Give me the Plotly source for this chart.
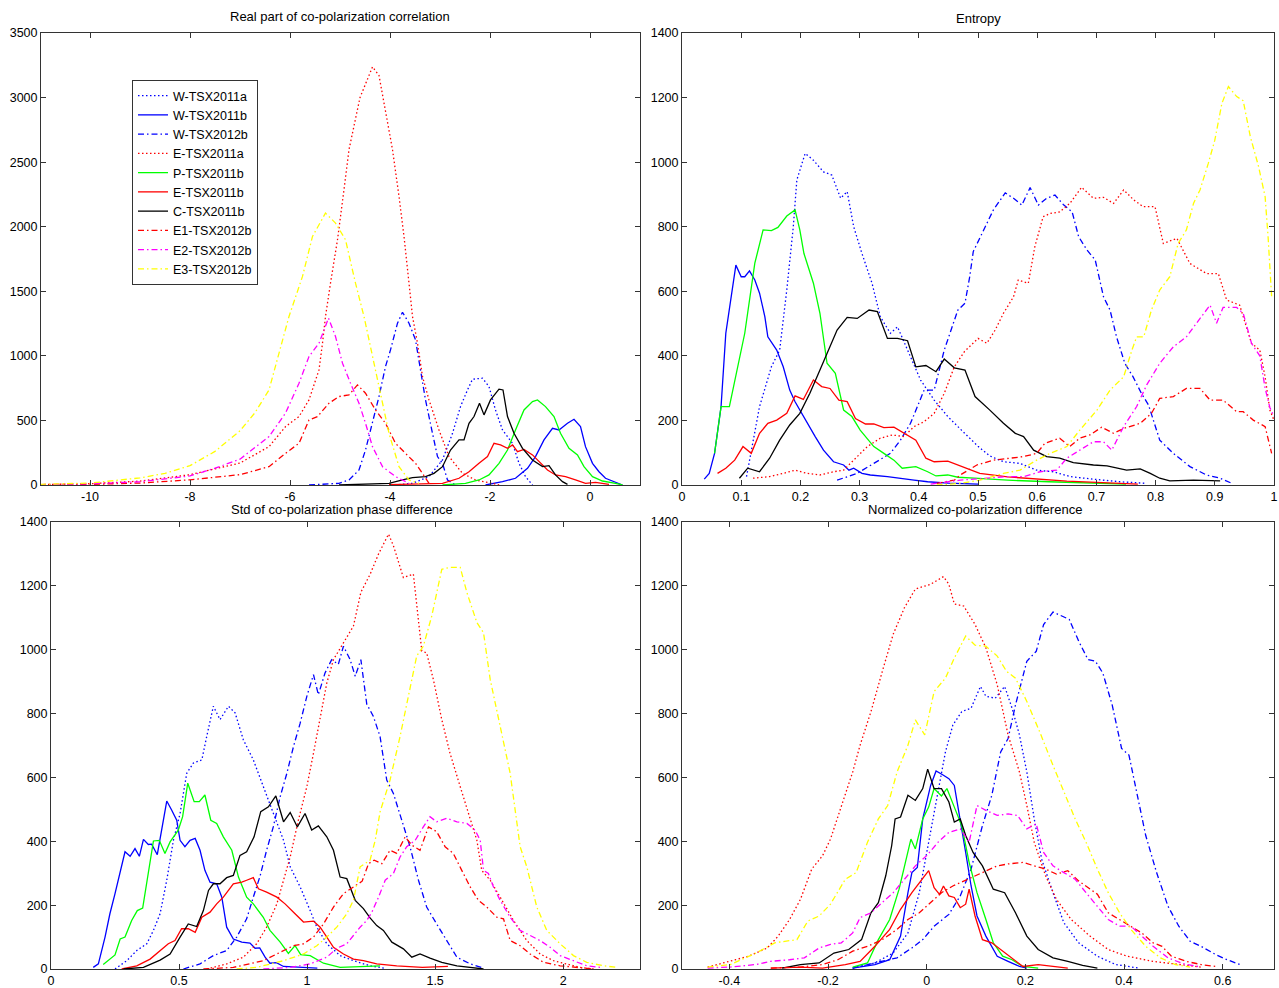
import plotly.graph_objects as go

# ---------------- series names / styles ----------------
names = ["W-TSX2011a", "W-TSX2011b", "W-TSX2012b", "E-TSX2011a", "P-TSX2011b",
         "E-TSX2011b", "C-TSX2011b", "E1-TSX2012b", "E2-TSX2012b", "E3-TSX2012b"]
colors = ["#0000FF", "#0000FF", "#0000FF", "#FF0000", "#00FF00",
          "#FF0000", "#000000", "#FF0000", "#FF00FF", "#FFFF00"]
DOT = "1.5px,2.5px"
DASHDOT = "6px,3px,1.5px,3px"
dashes = [DOT, "solid", DASHDOT, DOT, "solid", "solid", "solid", DASHDOT, DASHDOT, DASHDOT]

# ---------------- Real part of co-polarization correlation ----------------
rp_w11a_x = [-3.9, -3.55, -3.22, -2.95, -2.75, -2.59, -2.45, -2.35, -2.15, -2.02, -1.89, -1.75, -1.55, -1.42, -1.29, -1.15]
rp_w11a_y = [0, 13, 65, 194, 400, 607, 736, 819, 827, 762, 581, 426, 323, 168, 65, 0]
rp_w11b_x = [-2.09, -1.75, -1.49, -1.25, -1.09, -0.92, -0.75, -0.62, -0.45, -0.32, -0.19, -0.09, 0.05, 0.18, 0.31, 0.51, 0.65]
rp_w11b_y = [0, 26, 52, 129, 220, 349, 439, 426, 478, 509, 452, 297, 168, 103, 52, 18, 0]
rp_w12b_x = [-5.62, -5.02, -4.82, -4.62, -4.49, -4.35, -4.22, -4.09, -3.99, -3.85, -3.75, -3.62, -3.49, -3.39, -3.29, -3.15, -3.05, -2.95, -2.85, -2.69]
rp_w12b_y = [0, 13, 39, 116, 271, 478, 685, 917, 1046, 1253, 1338, 1253, 1124, 891, 659, 400, 220, 168, 39, 0]
rp_e11a_x = [-11, -10, -9, -8, -7, -6.42, -6.09, -5.82, -5.62, -5.42, -5.35, -5.29, -5.19, -5.05, -4.92, -4.82, -4.6, -4.35, -4.22, -4.09, -3.95, -3.82, -3.72, -3.62, -3.55, -3.45, -3.35, -3.22, -3.02, -2.82, -2.55, -2.29, -2.0, -1.8]
rp_e11a_y = [3, 10, 30, 80, 170, 297, 452, 530, 659, 891, 1098, 1305, 1563, 1899, 2287, 2597, 3000, 3238, 3171, 2907, 2597, 2235, 1925, 1563, 1305, 1098, 840, 659, 426, 220, 90, 39, 13, 0]
rp_p11b_x = [-2.95, -2.49, -2.22, -2.02, -1.82, -1.65, -1.49, -1.32, -1.15, -1.05, -0.89, -0.72, -0.59, -0.42, -0.25, -0.12, 0.05, 0.25, 0.51, 0.65]
rp_p11b_y = [0, 13, 39, 78, 168, 271, 426, 581, 646, 659, 607, 530, 400, 284, 233, 142, 65, 31, 13, 0]
rp_e11b_x = [-4.02, -3.29, -2.95, -2.62, -2.42, -2.22, -2.05, -1.92, -1.79, -1.65, -1.55, -1.45, -1.32, -1.15, -1.02, -0.85, -0.69, -0.49, -0.29, -0.09, 0.11, 0.38]
rp_e11b_y = [3, 13, 13, 52, 103, 168, 220, 323, 310, 284, 310, 258, 276, 233, 181, 116, 78, 65, 39, 13, 21, 5]
rp_c11b_x = [-5.02, -4.42, -4.02, -3.75, -3.55, -3.29, -3.12, -2.95, -2.79, -2.62, -2.52, -2.42, -2.32, -2.21, -2.12, -1.99, -1.82, -1.74, -1.65, -1.52, -1.35, -1.15, -0.95, -0.82, -0.69, -0.55, -0.45]
rp_c11b_y = [0, 5, 13, 39, 57, 65, 90, 142, 271, 349, 349, 478, 530, 633, 543, 659, 742, 736, 530, 400, 284, 194, 142, 150, 78, 26, 5]
rp_e1_x = [-11, -10, -9, -8, -7, -6.42, -6.09, -5.82, -5.62, -5.45, -5.22, -5.02, -4.82, -4.65, -4.49, -4.29, -4.09, -3.89, -3.69, -3.49, -3.35, -3.22]
rp_e1_y = [2, 5, 15, 40, 80, 142, 245, 323, 504, 530, 633, 685, 698, 775, 711, 581, 478, 323, 245, 168, 90, 13]
rp_e2_x = [-11, -10, -9, -8, -7.5, -7, -6.42, -6.09, -5.82, -5.62, -5.42, -5.23, -5.09, -4.95, -4.79, -4.62, -4.49, -4.35, -4.15, -3.89, -3.62]
rp_e2_y = [3, 10, 25, 70, 130, 200, 375, 556, 788, 995, 1098, 1292, 1150, 943, 788, 633, 478, 297, 142, 65, 13]
rp_e3_x = [-11, -10, -9, -8.5, -8, -7.5, -7, -6.7, -6.42, -6.29, -6.02, -5.75, -5.55, -5.29, -5.09, -4.89, -4.69, -4.52, -4.35, -4.19, -4.02, -3.82, -3.62, -3.42]
rp_e3_y = [5, 15, 55, 90, 150, 260, 420, 560, 736, 917, 1305, 1615, 1925, 2106, 2028, 1899, 1563, 1305, 995, 711, 400, 142, 39, 13]

# ---------------- Entropy ----------------
en_w11a_x = [0.109, 0.131, 0.151, 0.165, 0.177, 0.188, 0.194, 0.208, 0.222, 0.239, 0.253, 0.268, 0.279, 0.29, 0.304, 0.321, 0.335, 0.352, 0.364, 0.386, 0.403, 0.426, 0.449, 0.472, 0.5, 0.52, 0.543, 0.571, 0.599, 0.627, 0.656, 0.695, 0.74, 0.785]
en_w11a_y = [26, 243, 366, 418, 604, 800, 945, 1027, 1006, 970, 960, 888, 909, 800, 717, 625, 521, 470, 490, 397, 325, 263, 212, 170, 120, 90, 72, 67, 46, 41, 26, 18, 10, 5]
en_w11b_x = [0.0376, 0.046, 0.055, 0.066, 0.074, 0.086, 0.091, 0.1, 0.106, 0.114, 0.123, 0.131, 0.14, 0.145, 0.16, 0.171, 0.182, 0.191, 0.199, 0.211, 0.225, 0.239, 0.256, 0.273, 0.282, 0.29, 0.304, 0.318, 0.347, 0.392, 0.415, 0.45, 0.5]
en_w11b_y = [18, 36, 98, 243, 470, 614, 681, 645, 645, 663, 635, 594, 521, 459, 418, 366, 294, 258, 232, 191, 150, 108, 72, 62, 46, 52, 36, 31, 26, 15, 10, 6, 3]
en_w12b_x = [0.262, 0.296, 0.324, 0.352, 0.369, 0.386, 0.409, 0.426, 0.443, 0.466, 0.478, 0.486, 0.492, 0.509, 0.526, 0.546, 0.56, 0.574, 0.588, 0.602, 0.616, 0.63, 0.645, 0.659, 0.67, 0.684, 0.698, 0.712, 0.723, 0.734, 0.748, 0.762, 0.776, 0.788, 0.807, 0.83, 0.858, 0.886, 0.909, 0.929]
en_w12b_y = [15, 36, 67, 98, 139, 191, 294, 294, 418, 542, 563, 645, 723, 790, 852, 905, 888, 867, 921, 867, 888, 898, 867, 846, 769, 728, 697, 583, 542, 459, 377, 335, 284, 248, 139, 98, 57, 31, 21, 5]
en_e11a_x = [0.12, 0.148, 0.171, 0.191, 0.211, 0.233, 0.256, 0.273, 0.29, 0.313, 0.335, 0.355, 0.375, 0.392, 0.409, 0.426, 0.443, 0.46, 0.477, 0.494, 0.5, 0.515, 0.529, 0.543, 0.56, 0.568, 0.585, 0.596, 0.61, 0.622, 0.638, 0.655, 0.675, 0.695, 0.712, 0.729, 0.746, 0.763, 0.779, 0.799, 0.813, 0.836, 0.858, 0.886, 0.906, 0.92, 0.942, 0.962, 0.976, 0.985, 0.993, 1.0]
en_e11a_y = [21, 26, 36, 46, 36, 31, 41, 46, 77, 119, 145, 155, 150, 181, 196, 222, 284, 366, 413, 444, 454, 439, 480, 532, 583, 635, 625, 738, 831, 841, 846, 872, 922, 888, 891, 872, 914, 883, 862, 862, 748, 764, 686, 655, 655, 573, 557, 439, 418, 335, 232, 201]
en_p11b_x = [0.055, 0.066, 0.08, 0.091, 0.106, 0.123, 0.137, 0.151, 0.162, 0.177, 0.191, 0.199, 0.206, 0.222, 0.233, 0.245, 0.259, 0.273, 0.287, 0.301, 0.324, 0.341, 0.358, 0.372, 0.395, 0.415, 0.429, 0.449, 0.466, 0.494, 0.55, 0.62, 0.7, 0.75]
en_p11b_y = [98, 243, 243, 335, 470, 687, 790, 788, 798, 833, 852, 790, 717, 625, 532, 377, 346, 232, 212, 170, 119, 98, 77, 52, 57, 41, 28, 31, 24, 21, 15, 10, 5, 3]
en_e11b_x = [0.06, 0.074, 0.089, 0.103, 0.117, 0.131, 0.145, 0.16, 0.177, 0.191, 0.205, 0.222, 0.236, 0.25, 0.265, 0.279, 0.293, 0.31, 0.324, 0.341, 0.358, 0.381, 0.395, 0.412, 0.426, 0.449, 0.466, 0.489, 0.503, 0.55, 0.6, 0.65, 0.7, 0.77]
en_e11b_y = [36, 52, 77, 119, 98, 160, 191, 201, 222, 276, 265, 325, 305, 299, 263, 258, 206, 189, 189, 178, 179, 155, 139, 83, 72, 74, 62, 46, 36, 25, 18, 12, 8, 3]
en_c11b_x = [0.097, 0.111, 0.131, 0.148, 0.165, 0.182, 0.199, 0.216, 0.233, 0.248, 0.262, 0.279, 0.296, 0.316, 0.33, 0.347, 0.364, 0.381, 0.395, 0.412, 0.429, 0.443, 0.46, 0.478, 0.495, 0.52, 0.543, 0.563, 0.577, 0.594, 0.616, 0.638, 0.661, 0.695, 0.718, 0.751, 0.774, 0.791, 0.807, 0.824, 0.864, 0.909]
en_c11b_y = [21, 52, 41, 83, 139, 186, 222, 284, 356, 418, 480, 519, 516, 542, 537, 454, 454, 447, 366, 370, 351, 390, 363, 356, 274, 232, 191, 160, 150, 108, 88, 83, 69, 62, 59, 46, 50, 36, 21, 13, 15, 13]
en_e1_x = [0.43, 0.46, 0.47, 0.498, 0.526, 0.56, 0.577, 0.599, 0.613, 0.638, 0.655, 0.672, 0.689, 0.709, 0.729, 0.746, 0.774, 0.793, 0.807, 0.83, 0.852, 0.875, 0.892, 0.914, 0.937, 0.948, 0.965, 0.985, 0.996]
en_e1_y = [5, 15, 31, 62, 77, 83, 88, 98, 129, 145, 119, 145, 155, 179, 160, 175, 191, 222, 268, 274, 299, 299, 263, 263, 227, 227, 201, 181, 98]
en_e2_x = [0.42, 0.47, 0.515, 0.549, 0.577, 0.605, 0.633, 0.65, 0.672, 0.695, 0.712, 0.726, 0.746, 0.768, 0.785, 0.807, 0.83, 0.852, 0.869, 0.892, 0.903, 0.914, 0.937, 0.948, 0.962, 0.976, 0.985, 0.993, 1.0]
en_e2_y = [3, 15, 21, 26, 26, 41, 46, 83, 108, 134, 134, 108, 181, 243, 310, 377, 428, 459, 501, 557, 501, 550, 550, 532, 439, 400, 300, 240, 212]
en_e3_x = [0.43, 0.47, 0.503, 0.543, 0.571, 0.599, 0.622, 0.65, 0.672, 0.701, 0.723, 0.746, 0.76, 0.768, 0.78, 0.793, 0.807, 0.824, 0.838, 0.852, 0.864, 0.875, 0.889, 0.9, 0.912, 0.923, 0.937, 0.948, 0.96, 0.974, 0.985, 0.99, 0.996]
en_e3_y = [0, 5, 15, 36, 46, 77, 98, 119, 170, 232, 294, 335, 418, 459, 459, 542, 604, 645, 748, 790, 872, 914, 996, 1068, 1182, 1234, 1203, 1190, 1079, 986, 893, 769, 583]

# ---------------- Std of co-polarization phase difference ----------------
sd_w11a_x = [0.25, 0.296, 0.335, 0.374, 0.4, 0.426, 0.452, 0.478, 0.504, 0.53, 0.556, 0.589, 0.608, 0.634, 0.66, 0.693, 0.719, 0.751, 0.79, 0.829, 0.868, 0.908, 0.934, 0.973, 1.012, 1.038, 1.077, 1.129, 1.181, 1.246, 1.3]
sd_w11a_y = [0, 26, 58, 79, 121, 173, 278, 403, 487, 613, 645, 655, 728, 823, 781, 823, 802, 718, 655, 571, 487, 403, 320, 257, 183, 131, 79, 42, 26, 10, 3]
sd_w11b_x = [0.165, 0.185, 0.211, 0.23, 0.25, 0.27, 0.289, 0.309, 0.328, 0.345, 0.361, 0.38, 0.393, 0.415, 0.432, 0.452, 0.471, 0.491, 0.504, 0.523, 0.543, 0.563, 0.582, 0.601, 0.621, 0.647, 0.667, 0.686, 0.712, 0.745, 0.777, 0.797, 0.815, 0.836, 0.855, 0.88, 0.908, 0.973, 1.04]
sd_w11b_y = [5, 16, 100, 173, 236, 299, 367, 353, 377, 353, 406, 390, 391, 358, 435, 526, 498, 466, 403, 383, 403, 409, 372, 309, 272, 267, 225, 131, 94, 84, 81, 65, 66, 37, 18, 20, 8, 5, 3]
sd_w12b_x = [0.517, 0.582, 0.634, 0.686, 0.725, 0.764, 0.79, 0.816, 0.842, 0.868, 0.895, 0.921, 0.947, 0.973, 0.999, 1.025, 1.044, 1.07, 1.096, 1.122, 1.142, 1.168, 1.188, 1.21, 1.233, 1.259, 1.285, 1.311, 1.337, 1.37, 1.402, 1.435, 1.467, 1.506, 1.546, 1.585, 1.637, 1.689]
sd_w12b_y = [0, 16, 42, 58, 100, 157, 225, 290, 372, 445, 540, 613, 697, 770, 854, 922, 859, 927, 969, 954, 1011, 969, 917, 969, 830, 791, 728, 592, 550, 466, 383, 278, 194, 141, 89, 37, 16, 3]
sd_e11a_x = [0.608, 0.686, 0.751, 0.803, 0.842, 0.882, 0.908, 0.934, 0.966, 0.999, 1.025, 1.051, 1.077, 1.103, 1.142, 1.181, 1.21, 1.246, 1.279, 1.318, 1.337, 1.376, 1.415, 1.435, 1.448, 1.467, 1.493, 1.526, 1.558, 1.598, 1.637, 1.663, 1.682, 1.715, 1.754, 1.806, 1.858, 1.91, 1.962, 2.014, 2.066, 2.12]
sd_e11a_y = [0, 16, 37, 79, 131, 204, 278, 351, 466, 571, 676, 781, 896, 969, 1022, 1074, 1180, 1236, 1300, 1362, 1326, 1226, 1237, 1095, 996, 990, 907, 781, 676, 571, 466, 403, 309, 278, 225, 152, 89, 47, 26, 16, 5, 0]
sd_p11b_x = [0.204, 0.25, 0.27, 0.289, 0.315, 0.337, 0.358, 0.38, 0.4, 0.423, 0.445, 0.465, 0.497, 0.514, 0.534, 0.559, 0.579, 0.601, 0.624, 0.647, 0.673, 0.706, 0.732, 0.764, 0.79, 0.829, 0.855, 0.895, 0.927, 0.953, 0.975, 1.012, 1.064, 1.129, 1.2, 1.285]
sd_p11b_y = [14, 44, 94, 100, 152, 183, 191, 309, 401, 403, 362, 398, 435, 477, 582, 524, 524, 545, 466, 456, 414, 372, 288, 225, 204, 162, 121, 84, 49, 73, 45, 42, 18, 5, 8, 10]
sd_e11b_x = [0.276, 0.335, 0.387, 0.426, 0.458, 0.484, 0.51, 0.536, 0.563, 0.589, 0.621, 0.647, 0.673, 0.712, 0.745, 0.764, 0.79, 0.81, 0.842, 0.882, 0.914, 0.953, 0.986, 1.025, 1.051, 1.077, 1.103, 1.142, 1.181, 1.22, 1.272, 1.35, 1.45, 1.55]
sd_e11b_y = [0, 10, 31, 58, 79, 89, 126, 126, 115, 162, 178, 204, 225, 267, 272, 278, 286, 251, 241, 225, 204, 173, 147, 150, 131, 100, 68, 47, 31, 26, 16, 10, 5, 8]
sd_c11b_x = [0.283, 0.361, 0.426, 0.465, 0.504, 0.536, 0.569, 0.595, 0.615, 0.634, 0.66, 0.686, 0.712, 0.738, 0.764, 0.793, 0.819, 0.849, 0.878, 0.908, 0.934, 0.962, 0.992, 1.018, 1.044, 1.077, 1.103, 1.129, 1.155, 1.188, 1.22, 1.246, 1.272, 1.298, 1.331, 1.376, 1.409, 1.441, 1.48, 1.526, 1.585, 1.637, 1.689]
sd_c11b_y = [0, 5, 28, 47, 100, 141, 133, 183, 246, 267, 267, 286, 293, 356, 367, 414, 493, 508, 542, 461, 490, 445, 487, 435, 448, 414, 372, 288, 283, 215, 189, 160, 136, 121, 84, 63, 37, 47, 34, 21, 10, 5, 0]
sd_e1_x = [0.595, 0.712, 0.829, 0.908, 0.947, 0.986, 1.025, 1.064, 1.103, 1.142, 1.181, 1.215, 1.24, 1.262, 1.292, 1.324, 1.35, 1.383, 1.409, 1.441, 1.474, 1.506, 1.539, 1.571, 1.604, 1.637, 1.669, 1.702, 1.741, 1.767, 1.793, 1.832, 1.871, 1.923, 1.988, 2.053, 2.118]
sd_e1_y = [0, 5, 26, 58, 73, 79, 100, 141, 194, 236, 257, 275, 330, 341, 330, 372, 362, 414, 388, 372, 445, 430, 383, 362, 309, 257, 215, 194, 162, 157, 89, 73, 47, 21, 10, 5, 0]
sd_e2_x = [0.829, 0.934, 1.012, 1.077, 1.116, 1.155, 1.181, 1.207, 1.233, 1.253, 1.279, 1.305, 1.337, 1.363, 1.389, 1.422, 1.454, 1.48, 1.506, 1.546, 1.585, 1.624, 1.656, 1.676, 1.689, 1.708, 1.728, 1.754, 1.793, 1.832, 1.871, 1.91, 1.949, 1.988, 2.04, 2.092, 2.144]
sd_e2_y = [0, 5, 16, 37, 65, 79, 105, 131, 152, 178, 225, 278, 299, 351, 383, 403, 445, 477, 461, 472, 461, 456, 435, 403, 309, 299, 257, 215, 162, 121, 105, 89, 68, 42, 26, 10, 5]
sd_e3_x = [0.725, 0.803, 0.908, 0.986, 1.038, 1.077, 1.116, 1.155, 1.181, 1.207, 1.246, 1.266, 1.285, 1.324, 1.363, 1.402, 1.428, 1.454, 1.487, 1.526, 1.558, 1.598, 1.624, 1.663, 1.689, 1.715, 1.754, 1.793, 1.832, 1.858, 1.897, 1.936, 1.988, 2.04, 2.092, 2.157, 2.209]
sd_e3_y = [0, 5, 26, 47, 73, 100, 131, 173, 215, 320, 341, 403, 492, 592, 728, 886, 980, 1011, 1106, 1252, 1258, 1258, 1179, 1085, 1053, 907, 760, 613, 383, 320, 194, 121, 79, 42, 21, 10, 5]

# ---------------- Normalized co-polarization difference ----------------
nd_w11a_x = [-0.15, -0.105, -0.068, -0.038, -0.015, 0.004, 0.023, 0.038, 0.053, 0.071, 0.09, 0.109, 0.12, 0.139, 0.158, 0.173, 0.188, 0.203, 0.218, 0.233, 0.256, 0.278, 0.308, 0.346, 0.383, 0.429]
nd_w11a_y = [3, 19, 50, 113, 239, 397, 554, 680, 764, 806, 817, 885, 854, 848, 885, 817, 733, 617, 470, 344, 239, 145, 82, 40, 14, 3]
nd_w11b_x = [-0.15, -0.105, -0.075, -0.053, -0.038, -0.03, -0.019, -0.008, 0.008, 0.019, 0.034, 0.045, 0.056, 0.068, 0.079, 0.09, 0.102, 0.12, 0.143, 0.165, 0.188, 0.203]
nd_w11b_y = [3, 14, 29, 103, 239, 302, 318, 470, 575, 620, 607, 596, 575, 470, 365, 260, 166, 103, 40, 24, 8, 3]
nd_w12b_x = [-0.15, -0.105, -0.06, -0.03, -0.008, 0.015, 0.045, 0.068, 0.09, 0.113, 0.132, 0.15, 0.165, 0.18, 0.203, 0.222, 0.237, 0.256, 0.289, 0.308, 0.327, 0.342, 0.357, 0.376, 0.395, 0.41, 0.425, 0.444, 0.466, 0.489, 0.511, 0.534, 0.556, 0.586, 0.609, 0.635]
nd_w12b_y = [3, 19, 35, 66, 92, 134, 171, 229, 313, 449, 544, 680, 722, 827, 964, 995, 1079, 1118, 1095, 1027, 969, 964, 927, 827, 691, 670, 554, 418, 302, 197, 134, 87, 71, 45, 29, 14]
nd_e11a_x = [-0.444, -0.398, -0.361, -0.323, -0.301, -0.278, -0.256, -0.233, -0.211, -0.195, -0.173, -0.15, -0.135, -0.113, -0.09, -0.068, -0.045, -0.023, 0.008, 0.034, 0.045, 0.056, 0.075, 0.098, 0.12, 0.143, 0.165, 0.188, 0.203, 0.218, 0.241, 0.263, 0.293, 0.331, 0.368, 0.406, 0.459, 0.511, 0.556]
nd_e11a_y = [6, 24, 40, 66, 103, 155, 218, 313, 355, 407, 512, 617, 701, 806, 932, 1048, 1132, 1190, 1205, 1229, 1205, 1143, 1137, 1079, 1006, 890, 733, 617, 512, 397, 292, 218, 155, 103, 61, 40, 24, 14, 6]
nd_p11b_x = [-0.15, -0.12, -0.098, -0.075, -0.056, -0.045, -0.032, -0.023, -0.008, 0.004, 0.015, 0.03, 0.041, 0.056, 0.071, 0.086, 0.102, 0.12, 0.135, 0.154, 0.173, 0.195, 0.226]
nd_p11b_y = [6, 19, 92, 155, 250, 323, 407, 376, 470, 507, 565, 542, 565, 507, 449, 334, 239, 155, 82, 40, 29, 8, 3]
nd_e11b_x = [-0.316, -0.256, -0.211, -0.165, -0.135, -0.105, -0.075, -0.053, -0.03, -0.011, 0.004, 0.015, 0.026, 0.034, 0.045, 0.056, 0.068, 0.079, 0.086, 0.098, 0.113, 0.132, 0.15, 0.173, 0.195, 0.226, 0.256, 0.286]
nd_e11b_y = [3, 6, 3, 14, 24, 71, 124, 187, 239, 276, 308, 255, 234, 260, 229, 224, 192, 203, 250, 166, 92, 82, 61, 35, 8, 14, 8, 3]
nd_c11b_x = [-0.293, -0.256, -0.218, -0.188, -0.158, -0.132, -0.113, -0.098, -0.083, -0.071, -0.064, -0.053, -0.038, -0.023, -0.008, 0.002, 0.015, 0.03, 0.045, 0.056, 0.068, 0.079, 0.094, 0.113, 0.135, 0.158, 0.18, 0.203, 0.226, 0.256, 0.286, 0.316, 0.346]
nd_c11b_y = [3, 14, 19, 50, 61, 92, 176, 208, 292, 386, 470, 476, 544, 528, 565, 626, 565, 565, 523, 460, 470, 418, 365, 323, 250, 239, 176, 103, 61, 35, 24, 11, 3]
nd_e1_x = [-0.316, -0.256, -0.211, -0.18, -0.15, -0.12, -0.09, -0.06, -0.038, -0.015, 0.008, 0.03, 0.053, 0.075, 0.098, 0.12, 0.143, 0.165, 0.195, 0.218, 0.241, 0.263, 0.286, 0.308, 0.331, 0.346, 0.368, 0.391, 0.414, 0.436, 0.459, 0.477, 0.496, 0.526, 0.556, 0.586]
nd_e1_y = [3, 6, 14, 29, 56, 71, 92, 124, 155, 176, 208, 239, 260, 276, 292, 308, 323, 329, 334, 323, 313, 297, 308, 276, 250, 234, 176, 155, 134, 113, 82, 71, 40, 24, 14, 8]
nd_e2_x = [-0.444, -0.398, -0.346, -0.316, -0.278, -0.248, -0.218, -0.195, -0.173, -0.15, -0.135, -0.113, -0.09, -0.068, -0.045, -0.023, 0.0, 0.023, 0.045, 0.068, 0.086, 0.102, 0.12, 0.143, 0.165, 0.184, 0.203, 0.222, 0.237, 0.256, 0.278, 0.301, 0.323, 0.346, 0.368, 0.391, 0.414, 0.436, 0.459, 0.489, 0.519, 0.556]
nd_e2_y = [3, 6, 14, 24, 29, 35, 66, 77, 82, 113, 161, 176, 208, 239, 281, 323, 355, 397, 428, 439, 397, 512, 497, 481, 486, 481, 439, 455, 365, 323, 302, 281, 239, 197, 155, 134, 134, 103, 71, 35, 17, 6]
nd_e3_x = [-0.444, -0.398, -0.346, -0.308, -0.263, -0.241, -0.218, -0.195, -0.165, -0.143, -0.12, -0.098, -0.079, -0.06, -0.038, -0.023, -0.004, 0.015, 0.038, 0.056, 0.079, 0.098, 0.12, 0.143, 0.162, 0.18, 0.203, 0.229, 0.256, 0.278, 0.301, 0.323, 0.346, 0.368, 0.391, 0.414, 0.444, 0.474, 0.504, 0.534]
nd_e3_y = [6, 14, 50, 82, 92, 150, 166, 203, 281, 302, 397, 470, 512, 617, 701, 780, 733, 869, 911, 974, 1043, 1014, 1011, 980, 932, 911, 838, 743, 638, 554, 470, 397, 313, 239, 176, 124, 71, 35, 14, 6]

# ---------------- tick labels ----------------
rp_xticks = [-10, -8, -6, -4, -2, 0]
rp_xtext = ["-10", "-8", "-6", "-4", "-2", "0"]
rp_yticks = [0, 500, 1000, 1500, 2000, 2500, 3000, 3500]
en_xticks = [0, 0.1, 0.2, 0.3, 0.4, 0.5, 0.6, 0.7, 0.8, 0.9, 1]
en_xtext = ["0", "0.1", "0.2", "0.3", "0.4", "0.5", "0.6", "0.7", "0.8", "0.9", "1"]
sd_xticks = [0, 0.5, 1, 1.5, 2]
sd_xtext = ["0", "0.5", "1", "1.5", "2"]
nd_xticks = [-0.4, -0.2, 0, 0.2, 0.4, 0.6]
nd_xtext = ["-0.4", "-0.2", "0", "0.2", "0.4", "0.6"]
hist_yticks = [0, 200, 400, 600, 800, 1000, 1200, 1400]

titles = ["Real part of co-polarization correlation", "Entropy",
          "Std of co-polarization phase difference", "Normalized co-polarization difference"]

panels = [
    [(rp_w11a_x, rp_w11a_y), (rp_w11b_x, rp_w11b_y), (rp_w12b_x, rp_w12b_y), (rp_e11a_x, rp_e11a_y),
     (rp_p11b_x, rp_p11b_y), (rp_e11b_x, rp_e11b_y), (rp_c11b_x, rp_c11b_y), (rp_e1_x, rp_e1_y),
     (rp_e2_x, rp_e2_y), (rp_e3_x, rp_e3_y)],
    [(en_w11a_x, en_w11a_y), (en_w11b_x, en_w11b_y), (en_w12b_x, en_w12b_y), (en_e11a_x, en_e11a_y),
     (en_p11b_x, en_p11b_y), (en_e11b_x, en_e11b_y), (en_c11b_x, en_c11b_y), (en_e1_x, en_e1_y),
     (en_e2_x, en_e2_y), (en_e3_x, en_e3_y)],
    [(sd_w11a_x, sd_w11a_y), (sd_w11b_x, sd_w11b_y), (sd_w12b_x, sd_w12b_y), (sd_e11a_x, sd_e11a_y),
     (sd_p11b_x, sd_p11b_y), (sd_e11b_x, sd_e11b_y), (sd_c11b_x, sd_c11b_y), (sd_e1_x, sd_e1_y),
     (sd_e2_x, sd_e2_y), (sd_e3_x, sd_e3_y)],
    [(nd_w11a_x, nd_w11a_y), (nd_w11b_x, nd_w11b_y), (nd_w12b_x, nd_w12b_y), (nd_e11a_x, nd_e11a_y),
     (nd_p11b_x, nd_p11b_y), (nd_e11b_x, nd_e11b_y), (nd_c11b_x, nd_c11b_y), (nd_e1_x, nd_e1_y),
     (nd_e2_x, nd_e2_y), (nd_e3_x, nd_e3_y)],
]

W, H = 1279, 988
FONT = "Liberation Sans, Arial, Helvetica, sans-serif"

fig = go.Figure()
for p, series in enumerate(panels):
    ax = "" if p == 0 else str(p + 1)
    for i, (xs, ys) in enumerate(series):
        fig.add_trace(go.Scatter(
            x=xs, y=ys, mode="lines", name=names[i], legendgroup=names[i],
            showlegend=(p == 0), xaxis="x" + ax, yaxis="y" + ax,
            line=dict(color=colors[i], width=1.3, dash=dashes[i]),
            hoverinfo="skip"))

# pixel boxes of the four axes (left, right, top, bottom)
boxes = [(41, 640, 33, 485), (682, 1274, 33, 485), (51, 640, 522, 969), (682, 1274, 522, 969)]
xranges = [[-10.98, 1.0], [0, 1], [0, 2.3], [-0.496, 0.704]]
yranges = [[0, 3500], [0, 1400], [0, 1400], [0, 1400]]
xt = [(rp_xticks, rp_xtext), (en_xticks, en_xtext), (sd_xticks, sd_xtext), (nd_xticks, nd_xtext)]
yt = [rp_yticks, hist_yticks, hist_yticks, hist_yticks]

axis_common = dict(showline=True, linecolor="#333333", linewidth=1, mirror="ticks",
                   ticks="inside", ticklen=5, tickcolor="#333333", showgrid=False,
                   zeroline=False, automargin=False,
                   tickfont=dict(family=FONT, size=12.5, color="black"))
layout_axes = {}
for p in range(4):
    l, r, t, b = boxes[p]
    ax = "" if p == 0 else str(p + 1)
    layout_axes["xaxis" + ax] = dict(axis_common, domain=[l / W, r / W], range=xranges[p],
                                     anchor="y" + ax, tickmode="array",
                                     tickvals=xt[p][0], ticktext=xt[p][1])
    layout_axes["yaxis" + ax] = dict(axis_common, domain=[1 - b / H, 1 - t / H], range=yranges[p],
                                     anchor="x" + ax, tickmode="array",
                                     tickvals=yt[p], ticktext=[str(v) for v in yt[p]])

title_pos = [(340, 17), (978, 18), (342, 509), (975, 509)]
annotations = [dict(text=titles[k], x=title_pos[k][0] / W, y=1 - title_pos[k][1] / H,
                    xref="paper", yref="paper", showarrow=False, xanchor="center",
                    yanchor="middle", font=dict(family=FONT, size=13, color="black"))
               for k in range(4)]

fig.update_layout(
    width=W, height=H, autosize=False,
    margin=dict(l=0, r=0, t=0, b=0, pad=0, autoexpand=False),
    paper_bgcolor="white", plot_bgcolor="white",
    font=dict(family=FONT, size=12, color="black"),
    annotations=annotations,
    legend=dict(x=132 / W, y=1 - 80 / H, xanchor="left", yanchor="top",
                bgcolor="white", bordercolor="#333333", borderwidth=1,
                font=dict(family=FONT, size=12.5, color="black"),
                tracegroupgap=0, itemwidth=30),
    **layout_axes,
)

fix_page = (
    "document.documentElement.style.margin='0px';"
    "document.documentElement.style.overflow='hidden';"
    "document.body.style.margin='0px';document.body.style.overflow='hidden';"
    "var gd=document.getElementById('{plot_id}');"
    "gd.style.position='fixed';gd.style.left='0px';gd.style.top='0px';"
)
fig.write_html("out.html", config={"responsive": False, "displayModeBar": False},
               default_width="1279px", default_height="988px", post_script=fix_page)
